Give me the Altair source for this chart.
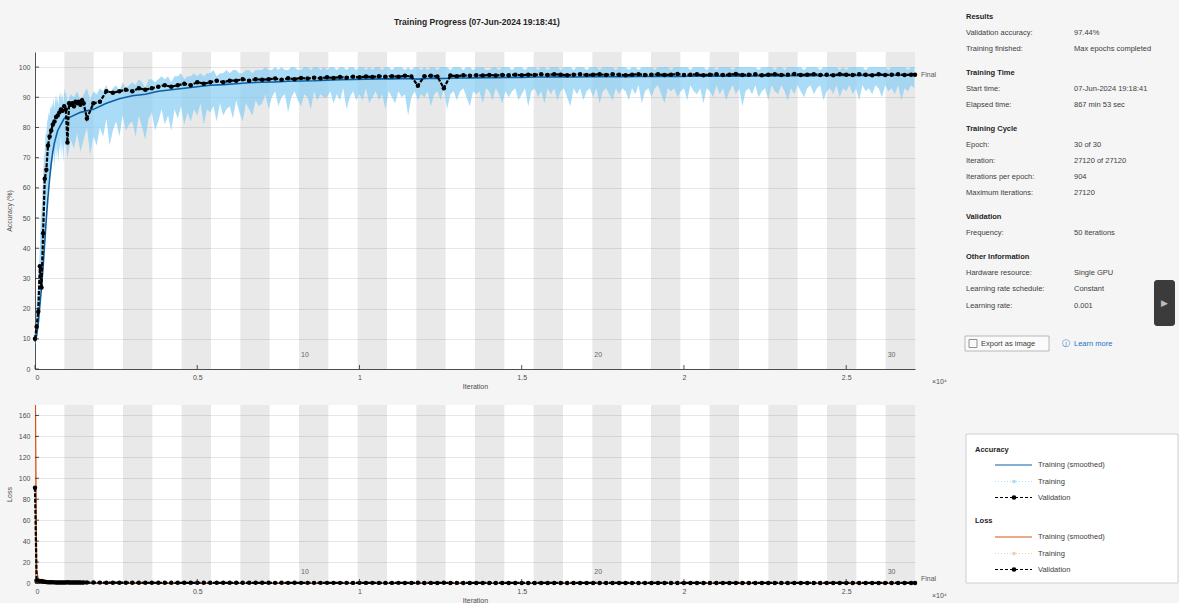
import altair as alt
import pandas as pd

FONT = "Liberation Sans"
ITERS_PER_EPOCH = 904
NUM_EPOCHS = 30
MAX_ITER = 27120

# ---------------- recorded metrics ----------------
# validation: every 50 iterations at the start, then every 200, plus the final check
val_iters = list(range(0, 1501, 50)) + list(range(1600, 27001, 200)) + [MAX_ITER]
val_acc = [
    10, 14, 19, 34, 27, 45, 63, 66, 74, 77,
    79, 81, 82, 83.5, 84, 85, 86, 85.5, 87, 86,
    75, 88, 87.5, 88, 87, 88.5, 88, 88.5, 87.5, 89,
    88,
    83, 88, 88.5, 92, 91.5, 92, 92.5, 92,
    93, 92.5, 93, 93.5, 94, 93.5, 94, 94.5,
    94, 95, 94.5, 95, 95.5, 95, 95.5, 95.5,
    96, 95.5, 96, 95.8, 96, 96.2, 95.8, 96.3,
    96, 96.4, 96.2, 96.5, 96.3, 96.6, 96.4, 96.7,
    96.5, 96.8, 96.6, 96.9, 96.7, 97, 96.8, 97,
    96.8, 97.1, 96.9, 93.8, 97, 97.1, 96.9, 93,
    97.2, 97, 97.3, 97.1, 97.3, 97.2, 97.4, 97.2,
    97.4, 97.3, 97.5, 97.3, 97.5, 97.4, 97.6, 97.4,
    97.6, 97.5, 97.3, 97.5, 97.6, 97.4, 97.5, 97.6,
    97.4, 97.6, 97.5, 97.3, 97.5, 97.6, 97.4, 97.5,
    97.6, 97.4, 97.5, 97.7, 97.4, 97.5, 97.6, 97.3,
    97.5, 97.6, 97.4, 97.5, 97.7, 97.4, 97.5, 97.6,
    97.3, 97.5, 97.6, 97.4, 97.5, 97.7, 97.4, 97.5,
    97.6, 97.4, 97.5, 97.3, 97.6, 97.5, 97.4, 97.6,
    97.5, 97.3, 97.6, 97.4, 97.5, 97.6, 97.4, 97.5,
    97.44,
]
val_loss = [
    91, 2.3, 2.1, 1.8, 1.9, 1.5, 1.1, 1.0, 0.82, 0.74,
    0.68, 0.62, 0.6, 0.56, 0.54, 0.51, 0.48, 0.49, 0.45, 0.46,
    0.78, 0.42, 0.43, 0.41, 0.43, 0.39, 0.4, 0.38, 0.41, 0.37,
    0.39,
    0.52, 0.38, 0.37, 0.28, 0.29, 0.28, 0.26, 0.27,
    0.24, 0.25, 0.23, 0.22, 0.21, 0.22, 0.2, 0.19,
    0.2, 0.17, 0.18, 0.17, 0.16, 0.17, 0.16, 0.16,
    0.15, 0.16, 0.14, 0.15, 0.14, 0.13, 0.14, 0.13,
    0.14, 0.13, 0.13, 0.12, 0.13, 0.12, 0.13, 0.12,
    0.12, 0.11, 0.12, 0.11, 0.12, 0.11, 0.11, 0.11,
    0.12, 0.1, 0.11, 0.22, 0.1, 0.11, 0.1, 0.25,
    0.1, 0.11, 0.1, 0.1, 0.1, 0.1, 0.09, 0.1,
    0.09, 0.1, 0.09, 0.09, 0.1, 0.09, 0.09, 0.09,
    0.09, 0.09, 0.08, 0.09, 0.09, 0.08, 0.09, 0.08,
    0.09, 0.08, 0.08, 0.09, 0.08, 0.08, 0.08, 0.08,
    0.08, 0.08, 0.08, 0.07, 0.08, 0.08, 0.07, 0.08,
    0.07, 0.08, 0.07, 0.08, 0.07, 0.07, 0.08, 0.07,
    0.07, 0.07, 0.07, 0.08, 0.07, 0.07, 0.07, 0.07,
    0.07, 0.07, 0.06, 0.07, 0.07, 0.07, 0.06, 0.07,
    0.07, 0.06, 0.07, 0.07, 0.06, 0.07, 0.06, 0.07,
    0.07,
]

# mini-batch training accuracy, as the low / high range seen in each stretch of
# iterations: every 25 iterations for the first 1000, then every 100
train_iters = list(range(0, 1000, 25)) + list(range(1000, 27101, 100))
train_lo = [
    8, 9, 12, 11, 16, 15, 22, 27, 26, 33,
    40, 47, 45, 55, 52, 60, 58, 64, 60, 68,
    66, 71, 68, 74, 66, 71, 75, 69, 73, 68,
    74, 72, 77, 70, 75, 68, 76, 73, 76, 72,
    70, 76, 73, 78, 72, 76, 80, 71, 77, 74,
    80, 77, 83, 74, 79, 82, 77, 84, 79, 81,
    82, 77, 84, 80, 76, 83, 85, 79, 82, 86,
    81, 84, 79, 86, 83, 87, 81, 85, 82, 86,
    84, 88, 81, 86, 85, 87, 82, 88, 84, 86,
    87, 83, 89, 85, 82, 88, 86, 84, 89, 87,
    88, 91, 86, 90, 92, 87, 90, 91, 85, 90,
    92, 89, 87, 91, 90, 86, 92, 89, 91, 90,
    90, 92, 88, 91, 89, 93, 86, 90, 92, 89,
    91, 89, 93, 88, 90, 92, 89, 91, 86, 92,
    90, 88, 92, 90, 91, 84, 90, 92, 89, 91,
    90, 92, 87, 91, 92, 89, 93, 86, 91, 92,
    89, 92, 93, 90, 87, 92, 91, 92, 88, 93,
    92, 89, 93, 91, 88, 92, 90, 92, 93, 89,
    91, 93, 87, 92, 93, 90, 92, 88, 93, 91,
    93, 89, 92, 93, 90, 87, 93, 91, 93, 89,
    92, 93, 90, 93, 88, 92, 93, 91, 89, 93,
    91, 93, 92, 89, 93, 91, 94, 88, 92, 93,
    90, 93, 94, 91, 88, 93, 92, 93, 90, 92,
    93, 89, 94, 92, 91, 93, 88, 93, 92, 90,
    94, 91, 93, 89, 92, 94, 91, 93, 87, 92,
    93, 91, 94, 90, 92, 93, 89, 94, 92, 91,
    94, 92, 89, 93, 91, 94, 92, 90, 93, 94,
    91, 93, 94, 89, 92, 93, 91, 94, 90, 93,
    92, 94, 91, 93, 89, 94, 92, 93, 91, 94,
    93, 90, 94, 92, 93, 91, 94, 89, 93, 92,
    94, 93,
]
train_hi = [
    10, 16, 22, 24, 30, 33, 40, 48, 52, 58,
    64, 70, 72, 78, 78, 82, 83, 85, 84, 87,
    86, 88, 87, 90, 86, 89, 91, 88, 90, 87,
    91, 90, 92, 89, 91, 88, 93, 91, 92, 90,
    88, 91, 90, 92, 89, 91, 93, 89, 92, 91,
    93, 92, 94, 91, 93, 94, 92, 95, 93, 94,
    95, 94, 96, 95, 93, 96, 96, 95, 96, 97,
    96, 97, 95, 97, 97, 98, 96, 97, 97, 98,
    97, 98, 97, 98, 98, 99, 97, 98, 98, 99,
    98, 99, 99, 98, 98, 99, 99, 98, 99, 99,
    99, 100, 99, 99, 100, 99, 100, 99, 99, 100,
    100, 99, 99, 100, 100, 99, 100, 100, 99, 100,
    99, 100, 100, 99, 100, 100, 99, 100, 100, 99,
    100, 100, 99, 100, 99, 100, 100, 99, 100, 100,
    99, 100, 100, 100, 99, 100, 99, 100, 100, 99,
    100, 99, 100, 100, 99, 100, 100, 100, 99, 100,
    100, 100, 99, 100, 100, 99, 100, 100, 100, 99,
    99, 100, 100, 99, 100, 100, 100, 99, 100, 100,
    100, 99, 100, 100, 100, 99, 100, 100, 99, 100,
    100, 100, 99, 100, 100, 100, 99, 100, 100, 100,
    99, 100, 100, 100, 99, 100, 100, 100, 100, 99,
    100, 100, 100, 99, 100, 100, 99, 100, 100, 100,
    100, 99, 100, 100, 100, 100, 99, 100, 100, 100,
    100, 100, 99, 100, 100, 100, 100, 99, 100, 100,
    99, 100, 100, 100, 100, 99, 100, 100, 100, 100,
    100, 100, 100, 99, 100, 100, 100, 100, 99, 100,
    100, 99, 100, 100, 100, 100, 100, 99, 100, 100,
    100, 100, 99, 100, 100, 100, 100, 100, 99, 100,
    99, 100, 100, 100, 100, 100, 99, 100, 100, 100,
    100, 100, 100, 99, 100, 100, 100, 100, 100, 99,
    100, 100,
]

# smoothed training curves
smooth_iters = list(range(0, 1000, 50)) + list(range(1000, 27001, 400)) + [MAX_ITER]
smooth_acc = [
    9, 11, 15, 21, 27, 34, 42, 50, 57, 63,
    68, 72, 75, 77, 79, 80, 81, 82, 83, 83.5,
    83, 85, 86, 88, 89.5, 90.5, 91, 92, 92.5, 93,
    93.5, 94, 94.2, 94.5, 94.8, 95, 95.1, 95.3, 95.4, 95.5,
    95.7, 95.8, 95.9, 96, 96.1, 96.1, 96.2, 96, 96.3, 96.2,
    96.4, 96.4, 96.5, 96.5, 96.6, 96.6, 96.7, 96.7, 96.8, 96.7,
    96.8, 96.8, 96.9, 96.8, 96.9, 96.9, 97, 96.9, 97, 97,
    97, 97.1, 97, 97.1, 97.1, 97.1, 97.2, 97.1, 97.2, 97.2,
    97.2, 97.3, 97.2, 97.3, 97.3, 97.3,
    97.3,
]
smooth_loss = [
    240, 12, 4.5, 2.6, 2.1, 1.8, 1.5, 1.2, 1.0, 0.9,
    0.8, 0.72, 0.66, 0.62, 0.58, 0.55, 0.52, 0.5, 0.48, 0.46,
    0.45, 0.42, 0.4, 0.37, 0.34, 0.32, 0.3, 0.28, 0.26, 0.25,
    0.23, 0.22, 0.21, 0.2, 0.19, 0.18, 0.17, 0.17, 0.16, 0.15,
    0.15, 0.14, 0.14, 0.13, 0.13, 0.12, 0.12, 0.12, 0.11, 0.11,
    0.11, 0.1, 0.1, 0.1, 0.1, 0.09, 0.09, 0.09, 0.09, 0.09,
    0.08, 0.08, 0.08, 0.08, 0.08, 0.08, 0.07, 0.07, 0.07, 0.07,
    0.07, 0.07, 0.07, 0.07, 0.06, 0.06, 0.06, 0.06, 0.06, 0.06,
    0.06, 0.06, 0.06, 0.06, 0.06, 0.06,
    0.06,
]

# mini-batch training loss
loss_iters = list(range(0, 500, 25)) + list(range(500, 27001, 500)) + [MAX_ITER]
train_loss = [
    240, 3.1, 2.4, 2.2, 2.0, 1.9, 1.6, 1.3, 1.1, 0.9,
    0.8, 0.9, 0.7, 0.6, 0.7, 0.5, 0.6, 0.5, 0.45, 0.5,
    0.5, 0.6, 0.35, 0.45, 0.3, 0.4, 0.25, 0.3, 0.2, 0.28,
    0.18, 0.22, 0.15, 0.2, 0.14, 0.18, 0.12, 0.16, 0.1, 0.15,
    0.12, 0.09, 0.14, 0.1, 0.08, 0.13, 0.09, 0.07, 0.12, 0.08,
    0.06, 0.1, 0.07, 0.05, 0.09, 0.06, 0.05, 0.08, 0.04, 0.06,
    0.05, 0.07, 0.04, 0.06, 0.03, 0.05, 0.04, 0.06, 0.03, 0.05,
    0.04, 0.03, 0.05, 0.04,
    0.04,
]

x_tick_values = [0, 5000, 10000, 15000, 20000, 25000]
acc_tick_values = list(range(0, 101, 10))
loss_tick_values = list(range(0, 161, 20))
epoch_label_epochs = [10, 20, 30]

# ---------------- tables ----------------
val_df = pd.DataFrame({"iter": val_iters, "acc": val_acc, "loss": val_loss})
train_df = pd.DataFrame({"iter": train_iters, "lo": train_lo, "hi": train_hi})
smooth_df = pd.DataFrame({"iter": smooth_iters, "acc": smooth_acc, "loss": smooth_loss})
tloss_df = pd.DataFrame({"iter": loss_iters, "loss": train_loss})
band_df = pd.DataFrame({
    "iter": [(e - 1) * ITERS_PER_EPOCH for e in range(2, NUM_EPOCHS + 1, 2)],
    "iter_end": [e * ITERS_PER_EPOCH for e in range(2, NUM_EPOCHS + 1, 2)],
})
epoch_lab_df = pd.DataFrame({
    "iter": [(e - 1) * ITERS_PER_EPOCH for e in epoch_label_epochs],
    "lab": [str(e) for e in epoch_label_epochs],
})
xtick_df = pd.DataFrame({"iter": x_tick_values})
one = pd.DataFrame({"k": [0]})

# plot geometry (page pixels of each plot's top-left corner)
W = 880
H_ACC = 317
H_LOSS = 178
X0, Y0_ACC, Y0_LOSS = 36, 52, 405
AXIS_DARK = "#262626"
TXT = "#4d4d4d"

xscale = alt.Scale(domain=[0, MAX_ITER], nice=False, zero=False)
x_axis = alt.Axis(
    values=x_tick_values, labelExpr="datum.value / 10000", tickSize=0,
    labelPadding=4, titlePadding=2, grid=False, domainColor=AXIS_DARK,
    domainWidth=0.8, labelColor=TXT, titleColor=TXT, labelFontSize=7,
    titleFontSize=7, titleFontWeight="normal", labelFont=FONT, titleFont=FONT,
)


def xenc():
    return alt.X("iter:Q", scale=xscale, axis=x_axis, title="Iteration")


def yaxis(values):
    return alt.Axis(
        values=values, tickSize=0, labelPadding=5, titlePadding=6, grid=True,
        gridColor="#d6d6d6", gridWidth=0.6, domainColor=AXIS_DARK, domainWidth=0.8,
        labelColor=TXT, titleColor=TXT, labelFontSize=7, titleFontSize=7,
        titleFontWeight="normal", labelFont=FONT, titleFont=FONT,
    )


acc_scale = alt.Scale(domain=[0, 105], nice=False)
loss_scale = alt.Scale(domain=[0, 170], nice=False)


def yacc(field="acc"):
    return alt.Y(f"{field}:Q", scale=acc_scale, axis=yaxis(acc_tick_values), title="Accuracy (%)")


def yloss(field="loss"):
    return alt.Y(f"{field}:Q", scale=loss_scale, axis=yaxis(loss_tick_values), title="Loss")


def common_layers(h, yfn, field, tick_values, label_gap):
    bands = alt.Chart(band_df).mark_rect(color="black", opacity=0.085).encode(
        x=xenc(), x2="iter_end:Q", y=alt.value(0), y2=alt.value(h))
    ep = alt.Chart(epoch_lab_df).mark_text(
        align="left", baseline="middle", dx=2, fontSize=7, font=FONT, color="#666666"
    ).encode(x=xenc(), y=alt.value(h - label_gap), text="lab:N")
    xt = alt.Chart(xtick_df).mark_rule(color=AXIS_DARK, strokeWidth=0.8).encode(
        x=xenc(), y=alt.value(h), y2=alt.value(h - 4))
    yt = alt.Chart(pd.DataFrame({field: tick_values})).mark_rule(
        color=AXIS_DARK, strokeWidth=0.8).encode(y=yfn(), x=alt.value(0), x2=alt.value(4))
    exp = alt.Chart(one).mark_text(
        align="left", baseline="middle", fontSize=7, font=FONT, color=TXT
    ).encode(x=alt.value(W + 17), y=alt.value(h + 13), text=alt.value("\u00d710\u2074"))
    return bands, ep, xt, yt, exp


def ptext(t, x, y, y0, bold=False, color="#404040", size=7.5, font=FONT, align="left"):
    """A line of text placed at page pixel (x, y) inside a plot whose top is y0."""
    return alt.Chart(one).mark_text(
        align=align, baseline="middle", fontSize=size, font=font,
        fontWeight="bold" if bold else "normal", color=color,
    ).encode(x=alt.value(x - X0), y=alt.value(y - y0), text=alt.value(t))


def prect(x1, x2, y1, y2, y0, **style):
    return alt.Chart(one).mark_rect(**style).encode(
        x=alt.value(x1 - X0), x2=alt.value(x2 - X0), y=alt.value(y1 - y0), y2=alt.value(y2 - y0))


# ---------------- accuracy plot ----------------
bands_a, ep_a, xt_a, yt_a, exp_a = common_layers(H_ACC, yacc, "acc", acc_tick_values, 14)
train_band = alt.Chart(train_df).mark_area(color="#86cdf3", opacity=0.7).encode(
    x=xenc(), y=yacc("lo"), y2="hi:Q")
smooth_line = alt.Chart(smooth_df).mark_line(color="#0b5fa5", strokeWidth=1.6).encode(
    x=xenc(), y=yacc())
val_line_a = alt.Chart(val_df).mark_line(color="black", strokeWidth=2.2, strokeDash=[4, 1.5]).encode(
    x=xenc(), y=yacc())
val_pts_a = alt.Chart(val_df).mark_point(filled=True, color="black", size=20, opacity=1).encode(
    x=xenc(), y=yacc())
final_a = alt.Chart(pd.DataFrame({"iter": [MAX_ITER], "acc": [val_acc[-1]], "t": ["Final"]})).mark_text(
    align="left", baseline="middle", dx=6, fontSize=7, font=FONT, color="#555555"
).encode(x=xenc(), y=yacc(), text="t:N")
title_a = ptext("Training Progress (07-Jun-2024 19:18:41)", X0 + W / 2 + 2, 22, Y0_ACC,
                bold=True, color="#262626", size=8.5, align="center")

# information side panel (drawn beside the accuracy plot)
LAB_X, VAL_X = 967, 1075
sections = [
    ("Results", [("Validation accuracy:", "97.44%"),
                 ("Training finished:", "Max epochs completed")]),
    ("Training Time", [("Start time:", "07-Jun-2024 19:18:41"),
                       ("Elapsed time:", "867 min 53 sec")]),
    ("Training Cycle", [("Epoch:", "30 of 30"),
                        ("Iteration:", "27120 of 27120"),
                        ("Iterations per epoch:", "904"),
                        ("Maximum iterations:", "27120")]),
    ("Validation", [("Frequency:", "50 iterations")]),
    ("Other Information", [("Hardware resource:", "Single GPU"),
                           ("Learning rate schedule:", "Constant"),
                           ("Learning rate:", "0.001")]),
]
panel = []
line = 0
for s, (head, items) in enumerate(sections):
    panel.append(ptext(head, LAB_X, 16.7 + 16.1 * line + 7.8 * s, Y0_ACC, bold=True, color="#1f1f1f"))
    line += 1
    for lab, val in items:
        y = 16.7 + 16.1 * line + 7.8 * s
        panel.append(ptext(lab, LAB_X, y, Y0_ACC))
        panel.append(ptext(val, VAL_X, y, Y0_ACC))
        line += 1

panel += [
    prect(966, 1050, 336, 351, Y0_ACC, fill="#fafafa", stroke="#a8a8a8", strokeWidth=0.8),
    prect(970, 978, 339.5, 347.5, Y0_ACC, fill="#fafafa", stroke="#777777", strokeWidth=0.8),
    ptext("Export as image", 982, 343.5, Y0_ACC),
    ptext("\u24d8", 1063, 343.5, Y0_ACC, color="#1a73c8", size=8, font="DejaVu Sans"),
    ptext("Learn more", 1075, 343.5, Y0_ACC, color="#1a73c8"),
    prect(1155, 1176, 280, 326, Y0_ACC, fill="#3b3b3b", cornerRadius=3),
    ptext("\u25b6", 1165.5, 303, Y0_ACC, color="#bdbdbd", size=9, font="DejaVu Sans", align="center"),
]

acc_chart = alt.layer(
    bands_a, train_band, smooth_line, val_line_a, val_pts_a, final_a, ep_a, xt_a, yt_a, exp_a,
    title_a, *panel
).properties(
    width=W, height=H_ACC,
    view=alt.ViewBackground(fill="white", stroke=None),
)

# ---------------- loss plot ----------------
bands_l, ep_l, xt_l, yt_l, exp_l = common_layers(H_LOSS, yloss, "loss", loss_tick_values, 11)
tloss_line = alt.Chart(tloss_df).mark_line(color="#f4b894", strokeWidth=1, clip=True).encode(
    x=xenc(), y=yloss())
sloss_line = alt.Chart(smooth_df).mark_line(color="#d95319", strokeWidth=1.2, clip=True).encode(
    x=xenc(), y=yloss())
val_line_l = alt.Chart(val_df).mark_line(color="black", strokeWidth=2.2, strokeDash=[4, 1.5]).encode(
    x=xenc(), y=yloss())
val_pts_l = alt.Chart(val_df).mark_point(filled=True, color="black", size=20, opacity=1).encode(
    x=xenc(), y=yloss())
final_l = alt.Chart(pd.DataFrame({"iter": [MAX_ITER], "loss": [val_loss[-1]], "t": ["Final"]})).mark_text(
    align="left", baseline="bottom", dx=6, dy=-1, fontSize=7, font=FONT, color="#555555"
).encode(x=xenc(), y=yloss(), text="t:N")


# legend box (drawn beside the loss plot)
def leg_line(y, color, dash=None, width=1.0):
    kw = {"strokeDash": dash} if dash else {}
    return alt.Chart(one).mark_rule(color=color, strokeWidth=width, **kw).encode(
        x=alt.value(996 - X0), x2=alt.value(1033 - X0), y=alt.value(y - Y0_LOSS))


def leg_dot(y, color, size, shape="circle"):
    return alt.Chart(one).mark_point(filled=True, color=color, size=size, shape=shape, opacity=1).encode(
        x=alt.value(1015 - X0), y=alt.value(y - Y0_LOSS))


legend = [
    prect(967, 1179, 434, 583, Y0_LOSS, fill="white", stroke="#c4c4c4", strokeWidth=0.8),
    ptext("Accuracy", 976, 450, Y0_LOSS, bold=True, color="#1f1f1f"),
    ptext("Loss", 976, 520.5, Y0_LOSS, bold=True, color="#1f1f1f"),
]
for y, t in zip([465, 481.5, 497.5, 537, 553.5, 569.5],
                ["Training (smoothed)", "Training", "Validation",
                 "Training (smoothed)", "Training", "Validation"]):
    legend.append(ptext(t, 1039, y, Y0_LOSS))
legend += [
    leg_line(465, "#0b5fa5", width=1.2),
    leg_line(481.5, "#a9dcf6", dash=[1, 2]),
    leg_dot(481.5, "#a9dcf6", 10, "square"),
    leg_line(497.5, "black", dash=[3, 2]),
    leg_dot(497.5, "black", 22),
    leg_line(537, "#d95319", width=1.2),
    leg_line(553.5, "#f6c9ac", dash=[1, 2]),
    leg_dot(553.5, "#f6c9ac", 10, "square"),
    leg_line(569.5, "black", dash=[3, 2]),
    leg_dot(569.5, "black", 22),
]

loss_chart = alt.layer(
    bands_l, tloss_line, sloss_line, val_line_l, val_pts_l, final_l, ep_l, xt_l, yt_l, exp_l, *legend
).properties(
    width=W, height=H_LOSS,
    view=alt.ViewBackground(fill="white", stroke=None),
)

chart = alt.vconcat(acc_chart, loss_chart, spacing=16).properties(
    padding={"left": 5, "top": 12, "right": 0, "bottom": 0},
    background="#f5f5f5",
).configure_view(stroke=None)

chart.save("out.html", embed_options={"renderer": "svg", "actions": False})
